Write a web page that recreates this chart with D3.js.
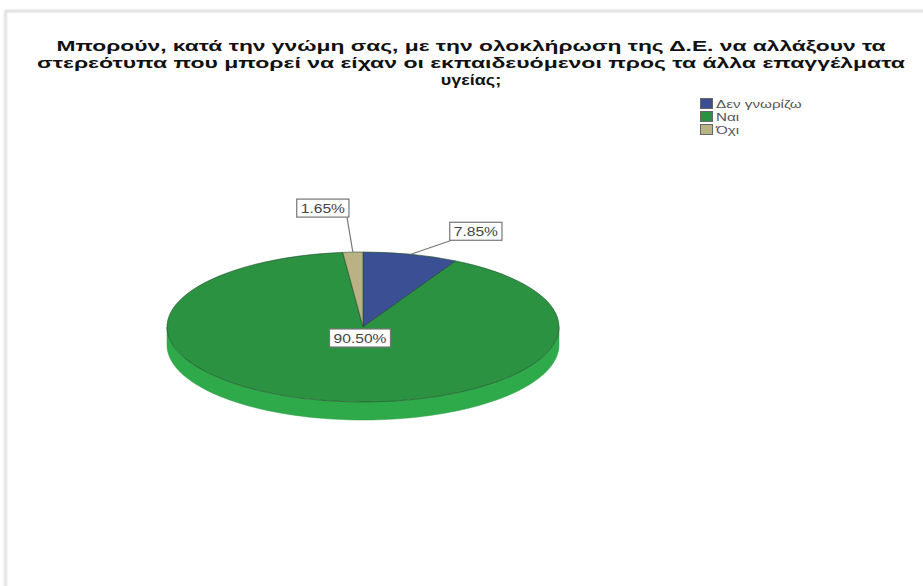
<!DOCTYPE html>
<html>
<head>
<meta charset="utf-8">
<script src="https://cdn.jsdelivr.net/npm/d3@7"></script>
<style>
  html, body { margin: 0; padding: 0; background: #fff; }
  svg { display: block; }
</style>
</head>
<body>
<svg id="chart" width="923" height="586"></svg>
<script>
// ---- data ----
const categories = ["Δεν γνωρίζω", "Ναι", "Όχι"];
const values = [7.85, 90.50, 1.65];
const valueLabels = ["7.85%", "90.50%", "1.65%"];
const titleLines = [
  "Μπορούν, κατά την γνώμη σας, με την ολοκλήρωση της Δ.Ε. να αλλάξουν τα",
  "στερεότυπα που μπορεί να είχαν οι εκπαιδευόμενοι προς τα άλλα επαγγέλματα",
  "υγείας;"
];

// ---- styling / layout ----
const topColors = ["#3a4f94", "#2b9241", "#b9b283"];
const sideColors = ["#34477f", "#2faa4b", "#a49d72"];
const cx = 363, cy = 327, rx = 196, ry = 75, depth = 18;
// label placement relative to the rim point at each slice's mid-angle (null = near pie centre)
const labelOffsets = [[65, -23], null, [-30, -44]];

const svg = d3.select("#chart");
const defs = svg.append("defs");
defs.append("filter").attr("id", "blur").append("feGaussianBlur").attr("stdDeviation", 1);

// frame
svg.append("rect").attr("x", 5.5).attr("y", 11).attr("width", 1000).attr("height", 1000)
  .attr("fill", "none").attr("stroke", "#d2d2d2").attr("stroke-width", 2).attr("filter", "url(#blur)");

// title
const titleG = svg.append("g").attr("font-family", "Liberation Sans, Arial, sans-serif")
  .attr("font-weight", "bold").attr("font-size", 15).attr("fill", "#111");
const titleWidths = [829, 868, null];
const titleY = [51, 68, 85];
titleLines.forEach((t, i) => {
  const txt = titleG.append("text").attr("x", 471).attr("y", titleY[i])
    .attr("text-anchor", "middle").text(t);
  const nat = txt.node().getComputedTextLength();
  const target = titleWidths[i] || nat * 1.2;
  txt.attr("textLength", target).attr("lengthAdjust", "spacingAndGlyphs");
});

// legend
const legendG = svg.append("g").attr("font-family", "Liberation Sans, Arial, sans-serif")
  .attr("font-size", 10.5).attr("fill", "#555");
categories.forEach((c, i) => {
  const y = 104 + i * 13;
  legendG.append("rect").attr("x", 700.5).attr("y", y - 5.5).attr("width", 12).attr("height", 10)
    .attr("fill", topColors[i]).attr("stroke", "#666").attr("stroke-width", 1);
  const t = legendG.append("text").attr("x", 716).attr("y", y + 3.5).text(c);
  const nat = t.node().getComputedTextLength();
  t.attr("textLength", nat * 1.45).attr("lengthAdjust", "spacingAndGlyphs");
});

// pie
const pieData = d3.pie().sort(null).value(d => d)(values);
const ex = a => cx + rx * Math.sin(a);
const ey = a => cy - ry * Math.cos(a);

// side walls (front half, angles between PI/2 and 3PI/2)
const wallsG = svg.append("g");
pieData.forEach((s, i) => {
  const a0 = Math.max(s.startAngle, Math.PI / 2);
  const a1 = Math.min(s.endAngle, 3 * Math.PI / 2);
  if (a1 <= a0) return;
  const n = 120;
  const angs = d3.range(n + 1).map(k => a0 + (a1 - a0) * k / n);
  const pts = angs.map(a => [ex(a), ey(a)]).concat(angs.slice().reverse().map(a => [ex(a), ey(a) + depth]));
  wallsG.append("path").attr("d", d3.line()(pts) + "Z")
    .attr("fill", sideColors[i]).attr("stroke", d3.color(sideColors[i]).darker(0.2)).attr("stroke-width", 0.5);
});

// top surface
const arcGen = d3.arc().innerRadius(0).outerRadius(rx);
const topG = svg.append("g").attr("transform", `translate(${cx},${cy}) scale(1,${ry / rx})`);
topG.selectAll("path").data(pieData).join("path")
  .attr("d", arcGen)
  .attr("fill", (d, i) => topColors[i])
  .attr("stroke", "#1f4a2a").attr("stroke-width", 0.6).attr("vector-effect", "non-scaling-stroke");

// labels
const labG = svg.append("g").attr("font-family", "Liberation Sans, Arial, sans-serif")
  .attr("font-size", 12).attr("fill", "#444");
pieData.forEach((s, i) => {
  const mid = (s.startAngle + s.endAngle) / 2;
  let lx, ly, anchor = null;
  if (labelOffsets[i]) {
    anchor = [ex(mid), ey(mid)];
    lx = anchor[0] + labelOffsets[i][0];
    ly = anchor[1] + labelOffsets[i][1];
  } else {
    lx = cx - 3; ly = cy + 11;
  }
  const t = labG.append("text").attr("x", lx).attr("y", ly + 4.5).attr("text-anchor", "middle").text(valueLabels[i]);
  const nat = t.node().getComputedTextLength();
  const tw = nat * 1.3;
  t.attr("textLength", tw).attr("lengthAdjust", "spacingAndGlyphs");
  const bw = tw + 8, bh = 18;
  const bx = lx - bw / 2, by = ly - bh / 2;
  if (anchor) {
    const ax = anchor[0] < lx ? bx + 2 : bx + bw - 2;
    labG.insert("line", "text").attr("x1", anchor[0]).attr("y1", anchor[1]).attr("x2", ax).attr("y2", by + bh)
      .attr("stroke", "#777").attr("stroke-width", 1.2);
  }
  labG.insert("rect", "text").attr("x", bx).attr("y", by).attr("width", bw).attr("height", bh)
    .attr("fill", "#fff").attr("stroke", "#777").attr("stroke-width", 1.2);
});
</script>
</body>
</html>
